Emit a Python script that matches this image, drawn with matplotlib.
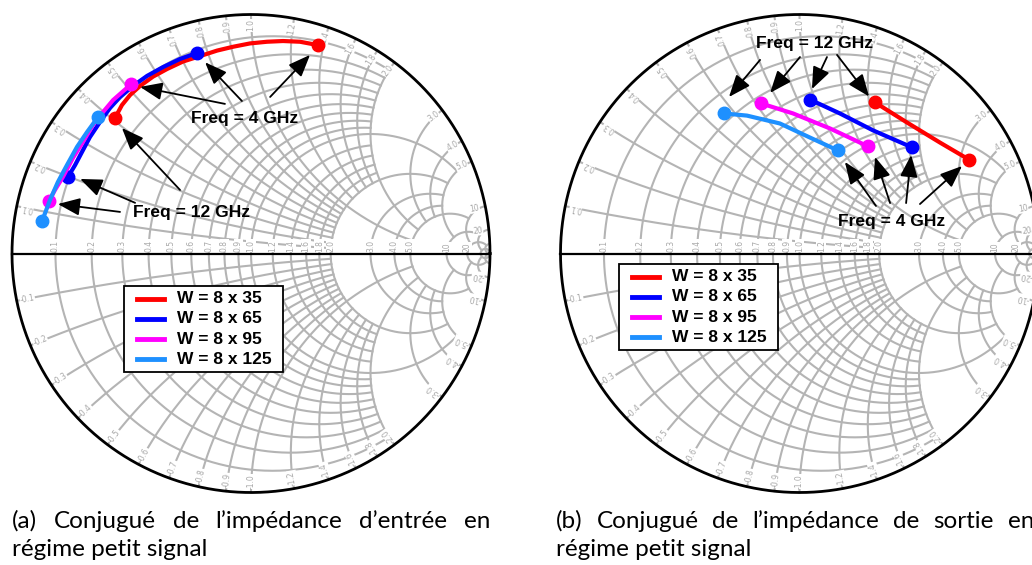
import numpy as np
import matplotlib
matplotlib.use('Agg')
import matplotlib.pyplot as plt
from matplotlib.lines import Line2D
from matplotlib.patches import Rectangle

W, H, DPI = 1032, 565, 100

# smith chart grid: circle values and where each family of lines stops
grid_vals = [0.1, 0.2, 0.3, 0.4, 0.5, 0.6, 0.7, 0.8, 0.9, 1.0,
             1.2, 1.4, 1.6, 1.8, 2.0, 3.0, 4.0, 5.0, 10, 20, 50]
grid_ends = [2, 2, 2, 2, 2, 2, 2, 2, 2, 5,
             2, 2, 2, 2, 5, 5, 5, 10, 20, 50, np.inf]

labels = ['W = 8 x 35', 'W = 8 x 65', 'W = 8 x 95', 'W = 8 x 125']
colors = ['#ff0000', '#0000ff', '#ff00ff', '#1e90ff']

# (a) conjugate of input impedance, reflection coefficient (4 GHz -> 12 GHz)
in35_re = [0.280, 0.205, 0.134, 0.067, -0.004, -0.075, -0.142, -0.213,
           -0.285, -0.351, -0.410, -0.464, -0.506, -0.540, -0.569]
in35_im = [0.872, 0.886, 0.889, 0.886, 0.879, 0.865, 0.849, 0.826,
           0.803, 0.772, 0.740, 0.701, 0.663, 0.621, 0.567]
in65_re = [-0.226, -0.297, -0.368, -0.435, -0.494, -0.548, -0.590, -0.632, -0.674, -0.707, -0.736, -0.766]
in65_im = [0.839, 0.814, 0.780, 0.743, 0.701, 0.655, 0.609, 0.550, 0.487, 0.425, 0.370, 0.320]
in95_re = [-0.502, -0.577, -0.619, -0.661, -0.703, -0.745, -0.787, -0.820, -0.845]
in95_im = [0.708, 0.642, 0.592, 0.538, 0.467, 0.400, 0.320, 0.266, 0.220]
in125_re = [-0.640, -0.686, -0.728, -0.770, -0.808, -0.841, -0.874]
in125_im = [0.571, 0.508, 0.446, 0.370, 0.299, 0.224, 0.136]

# (b) conjugate of output impedance (12 GHz -> 4 GHz)
out35_re = [0.316, 0.450, 0.588, 0.709]
out35_im = [0.632, 0.548, 0.464, 0.393]
out65_re = [0.044, 0.169, 0.308, 0.471]
out65_im = [0.644, 0.586, 0.515, 0.444]
out95_re = [-0.161, -0.027, 0.128, 0.287]
out95_im = [0.628, 0.586, 0.523, 0.448]
out125_re = [-0.316, -0.220, -0.082, 0.044, 0.161]
out125_im = [0.586, 0.577, 0.544, 0.485, 0.431]

captions = [["(a) Conjugué de l’impédance d’entrée en", "régime petit signal"],
            ["(b) Conjugué de l’impédance de sortie en", "régime petit signal"]]

GRID_C = '#b4b4b4'
BOLD = dict(family='Liberation Sans', weight='bold')


def z2g(z):
    return (z - 1) / (z + 1)


def fmt(v):
    return '%d' % v if v >= 10 else '%.1f' % v


def smith(ax):
    for v, e in zip(grid_vals, grid_ends):
        t = np.linspace(-np.arctan(e), np.arctan(e), 500)
        g = z2g(v + 1j * np.tan(t))
        ax.plot(g.real, g.imag, color=GRID_C, lw=1.5, zorder=1)
        t = np.linspace(0, np.arctan(e), 500)
        for s in (1, -1):
            g = z2g(np.tan(t) + 1j * s * v)
            ax.plot(g.real, g.imag, color=GRID_C, lw=1.5, zorder=1)
    th = np.linspace(0, 2 * np.pi, 600)
    ax.plot(np.cos(th), np.sin(th), color='k', lw=2, zorder=2)
    ax.plot([-1, 1], [0, 0], color='k', lw=1.6, zorder=2)
    box = dict(facecolor='white', edgecolor='none', pad=0.2)
    for v in grid_vals:
        if v > 20:
            continue
        ax.text(z2g(v).real, 0.008, fmt(v), rotation=90, ha='center', va='bottom',
                fontsize=5.5, color='#a8a8a8', bbox=box, zorder=1.5)
        for s in (1, -1):
            g = z2g(1j * s * v)
            ang = np.degrees(np.angle(g))
            rot = ang if s > 0 else ang + 180
            p = 0.955 * g
            ax.text(p.real, p.imag, fmt(v) if s > 0 else '-' + fmt(v), rotation=rot,
                    rotation_mode='anchor', ha='center', va='center',
                    fontsize=5.5, color='#a8a8a8', bbox=box, zorder=1.5)
    ax.set_xlim(-1.1, 1.1)
    ax.set_ylim(-1.1, 1.1)
    ax.axis('off')


def make_axes(fig, cx, cy, r):
    return fig.add_axes([(cx - 1.1 * r) / W, (H - cy - 1.1 * r) / H, 2.2 * r / W, 2.2 * r / H])


def curves(ax, series):
    for (re, im), c in zip(series, colors):
        ax.plot(re, im, color=c, lw=3, solid_capstyle='round', solid_joinstyle='round', zorder=3)
        ax.plot([re[0], re[-1]], [im[0], im[-1]], 'o', color=c, ms=9, zorder=3)


def arrow(ax, tail, tip):
    ax.annotate('', xy=tip, xytext=tail, zorder=4,
                arrowprops=dict(arrowstyle='-|>,head_length=0.75,head_width=0.3',
                                color='k', lw=1.3, mutation_scale=18,
                                shrinkA=0, shrinkB=0))


def legend(x0, y0):
    # box drawn in figure pixels, top-left corner at (x0, y0)
    fig.add_artist(Rectangle((x0 / W, 1 - (y0 + 86) / H), 159 / W, 86 / H,
                             transform=fig.transFigure, fc='white', ec='k', lw=1.3, zorder=6))
    for i, (lab, c) in enumerate(zip(labels, colors)):
        y = 1 - (y0 + 12.5 + 20.3 * i) / H
        fig.add_artist(Line2D([(x0 + 13) / W, (x0 + 40) / W], [y, y], color=c, lw=3.5,
                              transform=fig.transFigure, zorder=7))
        fig.text((x0 + 53) / W, y, lab, va='center', ha='left', fontsize=12.5, zorder=7, **BOLD)


fig = plt.figure(figsize=(W / DPI, H / DPI), dpi=DPI)
R = 239

# ---- (a)
ax1 = make_axes(fig, 251, 253.5, R)
smith(ax1)
curves(ax1, [(in35_re, in35_im), (in65_re, in65_im), (in95_re, in95_im), (in125_re, in125_im)])
ax1.text(-0.025, 0.565, 'Freq = 4 GHz', ha='center', va='center', fontsize=12.5, zorder=5, **BOLD)
ax1.text(-0.247, 0.173, 'Freq = 12 GHz', ha='center', va='center', fontsize=12.5, zorder=5, **BOLD)
for tail, tip in [((0.08, 0.655), (0.247, 0.831)), ((-0.038, 0.638), (-0.192, 0.800)),
                  ((-0.109, 0.626), (-0.464, 0.697)), ((-0.297, 0.266), (-0.540, 0.525)),
                  ((-0.485, 0.212), (-0.715, 0.312)), ((-0.548, 0.174), (-0.808, 0.207))]:
    arrow(ax1, tail, tip)
legend(124, 286)

# ---- (b)
ax2 = make_axes(fig, 799.5, 253.5, R)
smith(ax2)
curves(ax2, [(out35_re, out35_im), (out65_re, out65_im), (out95_re, out95_im), (out125_re, out125_im)])
ax2.text(0.061, 0.877, 'Freq = 12 GHz', ha='center', va='center', fontsize=12.5, zorder=5, **BOLD)
ax2.text(0.387, 0.132, 'Freq = 4 GHz', ha='center', va='center', fontsize=12.5, zorder=5, **BOLD)
for tail, tip in [((-0.165, 0.810), (-0.295, 0.655)), ((0.002, 0.822), (-0.123, 0.672)),
                  ((0.115, 0.822), (0.052, 0.688)), ((0.157, 0.831), (0.291, 0.657)),
                  ((0.320, 0.199), (0.190, 0.383)), ((0.379, 0.211), (0.316, 0.404)),
                  ((0.446, 0.211), (0.467, 0.412)), ((0.504, 0.207), (0.680, 0.366))]:
    arrow(ax2, tail, tip)
legend(619, 264)

# ---- captions, justified first line
renderer = fig.canvas.get_renderer()
cap_kw = dict(family='Lato', fontsize=17.5, va='baseline')
for (l1, l2), x0 in zip(captions, [12, 556]):
    words = l1.split(' ')
    ts = [fig.text(0, 1 - 528 / H, w, **cap_kw) for w in words]
    ws = [t.get_window_extent(renderer).width for t in ts]
    gap = (478 - sum(ws)) / (len(words) - 1)
    x = x0
    for t, w in zip(ts, ws):
        t.set_x(x / W)
        x += w + gap
    fig.text(x0 / W, 1 - 556 / H, l2, **cap_kw)

fig.savefig('out.png', dpi=DPI)
